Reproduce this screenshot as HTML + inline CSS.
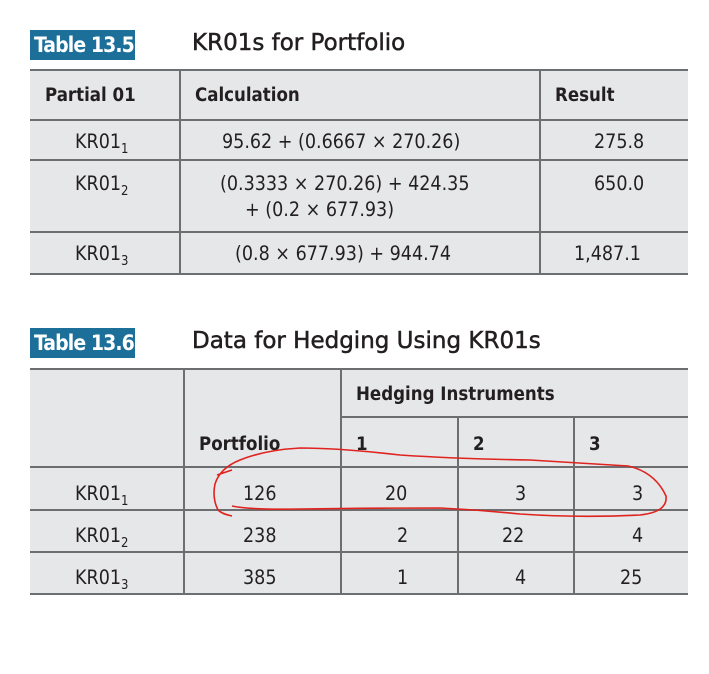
<!DOCTYPE html>
<html><head><meta charset="utf-8"><style>
body{margin:0;background:#fff;width:709px;height:674px;position:relative;font-family:"DejaVu Sans Condensed","Liberation Sans Narrow","Liberation Sans",sans-serif;color:#231f20;overflow:hidden}
.a{position:absolute}
.lbl{background:#1b6f99;color:#fff;font-weight:bold;font-size:21px;line-height:30px;padding-left:4px;box-sizing:border-box;white-space:nowrap;letter-spacing:-0.9px;overflow:hidden}
.tt{font-family:"DejaVu Sans",sans-serif;font-size:23px;white-space:nowrap;-webkit-text-stroke:0.5px #231f20}
.bg{background:#e6e7e8}
.h{height:2px;background:#6d6e70}
.v{width:2px;background:#6d6e70}
.t{font-size:19.5px;white-space:nowrap}
.b{font-weight:bold;font-size:18.5px}
sub{font-size:13px;vertical-align:-5px}
</style></head><body>
<div class="a lbl" style="left:30px;top:30px;width:105px;height:30px">Table 13.5</div>
<div class="a tt" style="left:192px;top:30px">KR01s for Portfolio</div>
<div class="a bg" style="left:30px;top:70px;width:658px;height:204px"></div>
<div class="a h" style="left:30px;top:69px;width:658px"></div>
<div class="a h" style="left:30px;top:119px;width:658px"></div>
<div class="a h" style="left:30px;top:159px;width:658px"></div>
<div class="a h" style="left:30px;top:231px;width:658px"></div>
<div class="a h" style="left:30px;top:273px;width:658px"></div>
<div class="a v" style="left:179px;top:69px;height:206px"></div>
<div class="a v" style="left:539px;top:69px;height:206px"></div>
<div class="a t b" style="left:45px;top:85px">Partial 01</div>
<div class="a t b" style="left:195px;top:85px">Calculation</div>
<div class="a t b" style="left:555px;top:85px">Result</div>
<div class="a t" style="left:75px;top:130px">KR01<sub>1</sub></div>
<div class="a t" style="left:222px;top:130px">95.62 + (0.6667 × 270.26)</div>
<div class="a t" style="left:594px;top:130px">275.8</div>
<div class="a t" style="left:75px;top:172px">KR01<sub>2</sub></div>
<div class="a t" style="left:220px;top:172px">(0.3333 × 270.26) + 424.35</div>
<div class="a t" style="left:245px;top:198px">+ (0.2 × 677.93)</div>
<div class="a t" style="left:594px;top:172px">650.0</div>
<div class="a t" style="left:75px;top:242px">KR01<sub>3</sub></div>
<div class="a t" style="left:235px;top:242px">(0.8 × 677.93) + 944.74</div>
<div class="a t" style="left:574px;top:242px">1,487.1</div>

<div class="a lbl" style="left:30px;top:328px;width:105px;height:30px">Table 13.6</div>
<div class="a tt" style="left:192px;top:328px">Data for Hedging Using KR01s</div>
<div class="a bg" style="left:30px;top:369px;width:658px;height:226px"></div>
<div class="a h" style="left:30px;top:368px;width:658px"></div>
<div class="a h" style="left:341px;top:416px;width:347px"></div>
<div class="a h" style="left:30px;top:466px;width:658px"></div>
<div class="a h" style="left:30px;top:509px;width:658px"></div>
<div class="a h" style="left:30px;top:551px;width:658px"></div>
<div class="a h" style="left:30px;top:593px;width:658px"></div>
<div class="a v" style="left:183px;top:368px;height:227px"></div>
<div class="a v" style="left:340px;top:368px;height:227px"></div>
<div class="a v" style="left:457px;top:416px;height:179px"></div>
<div class="a v" style="left:573px;top:416px;height:179px"></div>
<div class="a t b" style="left:356px;top:384px">Hedging Instruments</div>
<div class="a t b" style="left:199px;top:434px">Portfolio</div>
<div class="a t b" style="left:356px;top:434px">1</div>
<div class="a t b" style="left:473px;top:434px">2</div>
<div class="a t b" style="left:589px;top:434px">3</div>
<div class="a t" style="left:75px;top:482px">KR01<sub>1</sub></div>
<div class="a t" style="left:243px;top:482px">126</div>
<div class="a t" style="left:385px;top:482px">20</div>
<div class="a t" style="left:515px;top:482px">3</div>
<div class="a t" style="left:632px;top:482px">3</div>
<div class="a t" style="left:75px;top:524px">KR01<sub>2</sub></div>
<div class="a t" style="left:243px;top:524px">238</div>
<div class="a t" style="left:397px;top:524px">2</div>
<div class="a t" style="left:502px;top:524px">22</div>
<div class="a t" style="left:632px;top:524px">4</div>
<div class="a t" style="left:75px;top:566px">KR01<sub>3</sub></div>
<div class="a t" style="left:243px;top:566px">385</div>
<div class="a t" style="left:397px;top:566px">1</div>
<div class="a t" style="left:515px;top:566px">4</div>
<div class="a t" style="left:620px;top:566px">25</div>
<svg class="a" style="left:0;top:0" width="709" height="674">
<path d="M232,516 Q222,514 218,510 Q212,498 215,484 Q220,468 240,460 Q265,450 300,448 Q340,448 400,455 Q460,459 530,460 Q580,463 628,466 Q655,472 666,496 Q668,512 640,515 Q580,518 520,514 Q480,510 440,508 Q360,508 300,509 Q250,510 232,506 M217,475 L232,470" fill="none" stroke="#e0231f" stroke-width="1.6"/>
</svg>
</body></html>
